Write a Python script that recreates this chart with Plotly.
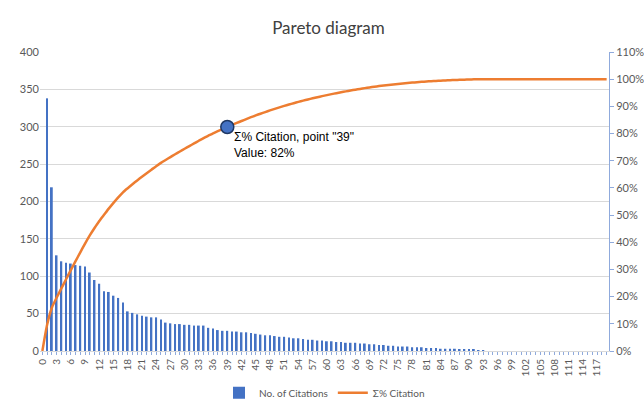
import plotly.graph_objects as go

# Citation counts per rank (rank 0 is the empty origin), ranks 0..119
categories = list(range(0, 120))
citations = [
    0, 338, 219, 128, 120, 118, 117, 115, 114, 113,
    105, 95, 90, 80, 79, 74, 71, 65, 53, 51,
    49, 47, 46, 45, 45, 42, 38, 37, 36, 36,
    35, 35, 34, 34, 34, 31, 30, 28, 27, 27,
    26, 26, 25, 25, 24, 23, 22, 21, 21, 20,
    19, 19, 18, 17, 17, 16, 15, 15, 14, 14,
    13, 13, 12, 12, 11, 11, 11, 10, 10, 9,
    9, 8, 8, 7, 7, 6, 6, 6, 5, 5,
    5, 4, 4, 4, 3, 3, 3, 3, 2, 2,
    2, 2, 1, 1,
] + [0] * 26
tick_labels = [str(v) for v in range(0, 118, 3)]
highlight_point = 39

# Running share of all citations
total = sum(citations)
cumulative = []
running = 0
for c in citations:
    running += c
    cumulative.append(running / total)

BLUE = "#4472C4"
ORANGE = "#ED7D31"
GREY_TXT = "#595959"
FONT = "Lato, 'Liberation Sans', sans-serif"

fig = go.Figure()
fig.add_trace(go.Bar(
    x=categories, y=citations, name="No. of Citations",
    marker=dict(color=BLUE, line=dict(width=0)),
))
fig.add_trace(go.Scatter(
    x=categories, y=cumulative, name="Σ% Citation", yaxis="y2",
    mode="lines", line=dict(color=ORANGE, width=2.5, shape="spline", smoothing=0.6),
))
fig.add_trace(go.Scatter(
    x=[highlight_point], y=[cumulative[highlight_point]], yaxis="y2",
    mode="markers", showlegend=False, hoverinfo="skip",
    marker=dict(size=13, color=BLUE, line=dict(color="#1F3864", width=1.5)),
))

fig.add_annotation(
    x=highlight_point, y=cumulative[highlight_point], xref="x", yref="y2",
    text=f'Σ% Citation, point "{highlight_point}"<br>Value: {round(cumulative[highlight_point]*100)}%',
    showarrow=False, xanchor="left", yanchor="top", align="left",
    xshift=5, yshift=-1,
    font=dict(family="Arial, 'Liberation Sans', sans-serif", size=12, color="#000000"),
)

fig.update_layout(
    width=644, height=405,
    margin=dict(l=40, r=35, t=52, b=54, autoexpand=False),
    paper_bgcolor="white", plot_bgcolor="white",
    font=dict(family=FONT, color=GREY_TXT, size=11),
    title=dict(text="Pareto diagram", x=0.51, xanchor="center", y=0.93, yanchor="middle",
               font=dict(family=FONT, size=17, color="#404040")),
    bargap=0.62,
    showlegend=True,
    legend=dict(orientation="h", x=0.5, xanchor="center",
                yref="container", y=0.03, yanchor="middle",
                font=dict(family=FONT, size=10, color=GREY_TXT)),
    xaxis=dict(
        range=[-0.5, 119.5], tickmode="array", automargin=False,
        tickvals=[int(t) for t in tick_labels], ticktext=tick_labels,
        tickangle=-90, tickfont=dict(size=10, color=GREY_TXT),
        showgrid=False, zeroline=False,
        showline=True, linecolor="#D9D9D9", linewidth=1,
        ticks="outside", ticklen=3, tickcolor="#8FAADC",
        minor=dict(dtick=1, ticks="outside", ticklen=3, tickcolor="#8FAADC"),
    ),
    yaxis=dict(
        range=[0, 400], dtick=50, showgrid=True, gridcolor="#D9D9D9", automargin=False,
        zeroline=False, showline=False, ticks="",
        tickfont=dict(size=11, color=GREY_TXT),
    ),
    yaxis2=dict(
        range=[0, 1.1], dtick=0.1, tickformat=".0%", overlaying="y", side="right",
        automargin=False,
        showgrid=False, zeroline=False, showline=True, linecolor="#8FAADC", linewidth=1,
        ticks="outside", ticklen=4, tickcolor="#8FAADC",
        tickfont=dict(size=11, color=GREY_TXT),
    ),
)

fig.write_html("out.html")
